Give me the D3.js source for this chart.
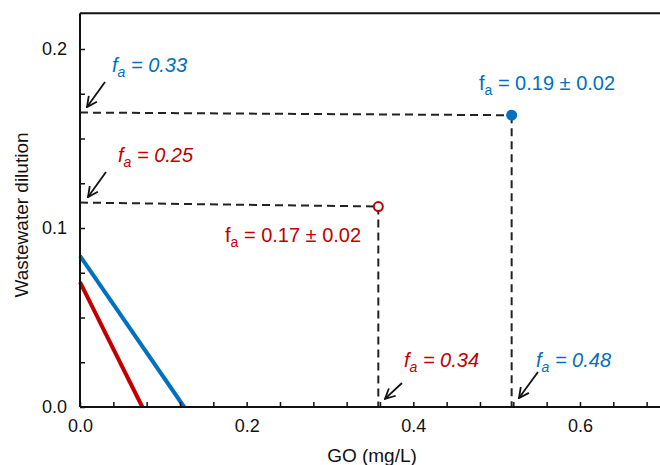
<!DOCTYPE html>
<html>
<head>
<meta charset="utf-8">
<script src="https://cdn.jsdelivr.net/npm/d3@7"></script>
<style>
  body { margin: 0; background: #fff; }
  svg { display: block; font-family: "Liberation Sans", Arial, sans-serif; }
</style>
</head>
<body>
<svg id="chart" width="660" height="465"></svg>
<script>
// ---- data ----
const xTickValues = d3.range(0, 0.70, 0.04).map(v => +v.toFixed(2));
const xLabelValues = [0.0, 0.2, 0.4, 0.6];
const yTickValues = d3.range(0, 0.21, 0.025).map(v => +v.toFixed(3));
const yLabelValues = [0.0, 0.1, 0.2];

// solid lines: [x, y] pairs
const blueLine = [[0, 0.0844], [0.125, 0]];
const redLine  = [[0, 0.0698], [0.0748, 0]];

// measured points
const bluePoint = { x: 0.518, y: 0.163 };
const redPoint  = { x: 0.358, y: 0.112 };
// left end of the dashed guides on the y axis
const blueGuideY0 = 0.1645;
const redGuideY0  = 0.1142;

// arrows [x1, y1, x2, y2] in data units
const arrows = [
  [0.0300, 0.1816, 0.0084, 0.1676],
  [0.0312, 0.1313, 0.0096, 0.1173],
  [0.3864, 0.0134, 0.3660, 0.0045],
  [0.5496, 0.0196, 0.5268, 0.0050]
];

// annotation labels
const labels = [
  { x: 0.0384, y: 0.1873, val: " = 0.33", color: "#0070C0", italic: true },
  { x: 0.0456, y: 0.1369, val: " = 0.25", color: "#C00000", italic: true },
  { x: 0.3888, y: 0.0224, val: " = 0.34", color: "#C00000", italic: true },
  { x: 0.5472, y: 0.0224, val: " = 0.48", color: "#0070C0", italic: true },
  { x: 0.4788, y: 0.1771, val: " = 0.19 \u00b1 0.02", color: "#0070C0", italic: false },
  { x: 0.1740, y: 0.0922, val: " = 0.17 \u00b1 0.02", color: "#C00000", italic: false }
];

// ---- layout ----
const svg = d3.select("#chart");
const x = d3.scaleLinear().domain([0, 0.7]).range([80, 663.3]);
const y = d3.scaleLinear().domain([0, 0.22]).range([407, 13.2]);

const defs = svg.append("defs");
defs.append("marker")
  .attr("id", "arrowhead")
  .attr("viewBox", "0 0 12 12")
  .attr("refX", 11).attr("refY", 6)
  .attr("markerWidth", 12).attr("markerHeight", 12)
  .attr("markerUnits", "userSpaceOnUse")
  .attr("orient", "auto")
  .append("path")
  .attr("d", "M1,1 L11,6 L1,11")
  .attr("fill", "none").attr("stroke", "#111").attr("stroke-width", 1.8);

// solid lines
const lineGen = d3.line().x(d => x(d[0])).y(d => y(d[1]));
svg.append("path").datum(redLine).attr("d", lineGen)
  .attr("stroke", "#C00000").attr("stroke-width", 4).attr("fill", "none");
svg.append("path").datum(blueLine).attr("d", lineGen)
  .attr("stroke", "#0070C0").attr("stroke-width", 4).attr("fill", "none");

// dashed guides
function guide(pt, y0) {
  svg.append("path").datum([[0, y0], [pt.x, pt.y]]).attr("d", lineGen)
    .attr("stroke", "#222").attr("stroke-width", 2).attr("fill", "none")
    .attr("stroke-dasharray", "8,5");
  svg.append("path").datum([[pt.x, pt.y], [pt.x, 0]]).attr("d", lineGen)
    .attr("stroke", "#222").attr("stroke-width", 2).attr("fill", "none")
    .attr("stroke-dasharray", "8,5");
}
guide(bluePoint, blueGuideY0);
guide(redPoint, redGuideY0);

// axes
const xAxis = d3.axisBottom(x).tickValues(xTickValues)
  .tickSizeInner(-5).tickSizeOuter(0).tickPadding(12)
  .tickFormat(d => xLabelValues.some(v => Math.abs(v - d) < 1e-9) ? d3.format(".1f")(d) : "");
const gx = svg.append("g").attr("transform", `translate(0,${y(0)})`).call(xAxis);
gx.select(".domain").attr("stroke", "#111").attr("stroke-width", 2).attr("d", `M${x(0)},0H660`);
gx.selectAll(".tick line").attr("stroke", "#111").attr("stroke-width", 1.5);
gx.selectAll(".tick text").attr("font-size", 18).attr("fill", "#111")
  .attr("font-family", "Liberation Sans, Arial, sans-serif");

const yAxis = d3.axisLeft(y).tickValues(yTickValues)
  .tickSizeInner(-5).tickSizeOuter(0).tickPadding(13)
  .tickFormat(d => yLabelValues.some(v => Math.abs(v - d) < 1e-9) ? d3.format(".1f")(d) : "");
const gy = svg.append("g").attr("transform", `translate(${x(0)},0)`).call(yAxis);
gy.select(".domain").attr("stroke", "#111").attr("stroke-width", 2)
  .attr("d", `M0,${y(0)}V${y(0.22)}`);
gy.selectAll(".tick line").attr("stroke", "#111").attr("stroke-width", 1.5);
gy.selectAll(".tick text").attr("font-size", 18).attr("fill", "#111")
  .attr("font-family", "Liberation Sans, Arial, sans-serif");

// top border
svg.append("line").attr("x1", x(0)).attr("x2", 660).attr("y1", y(0.22)).attr("y2", y(0.22))
  .attr("stroke", "#111").attr("stroke-width", 2);

// points
svg.append("circle").attr("cx", x(redPoint.x)).attr("cy", y(redPoint.y)).attr("r", 4.5)
  .attr("fill", "#fff").attr("stroke", "#C00000").attr("stroke-width", 2);
svg.append("circle").attr("cx", x(bluePoint.x)).attr("cy", y(bluePoint.y)).attr("r", 5.5)
  .attr("fill", "#0070C0");

// arrows
svg.selectAll(".arrow").data(arrows).enter().append("line")
  .attr("x1", d => x(d[0])).attr("y1", d => y(d[1]))
  .attr("x2", d => x(d[2])).attr("y2", d => y(d[3]))
  .attr("stroke", "#111").attr("stroke-width", 1.8)
  .attr("marker-end", "url(#arrowhead)");

// labels
labels.forEach(l => {
  const t = svg.append("text").attr("x", x(l.x)).attr("y", y(l.y))
    .attr("font-size", 20).attr("fill", l.color)
    .attr("font-style", l.italic ? "italic" : "normal");
  t.append("tspan").text("f");
  t.append("tspan").attr("font-size", 14).attr("dy", 5).text("a");
  t.append("tspan").attr("dy", -5).text(l.val);
});

// axis titles
svg.append("text").attr("x", 372).attr("y", 462).attr("text-anchor", "middle")
  .attr("font-size", 19).attr("fill", "#111").text("GO (mg/L)");
svg.append("text").attr("transform", "translate(28,215) rotate(-90)")
  .attr("text-anchor", "middle").attr("font-size", 19).attr("fill", "#111")
  .text("Wastewater dilution");
</script>
</body>
</html>
